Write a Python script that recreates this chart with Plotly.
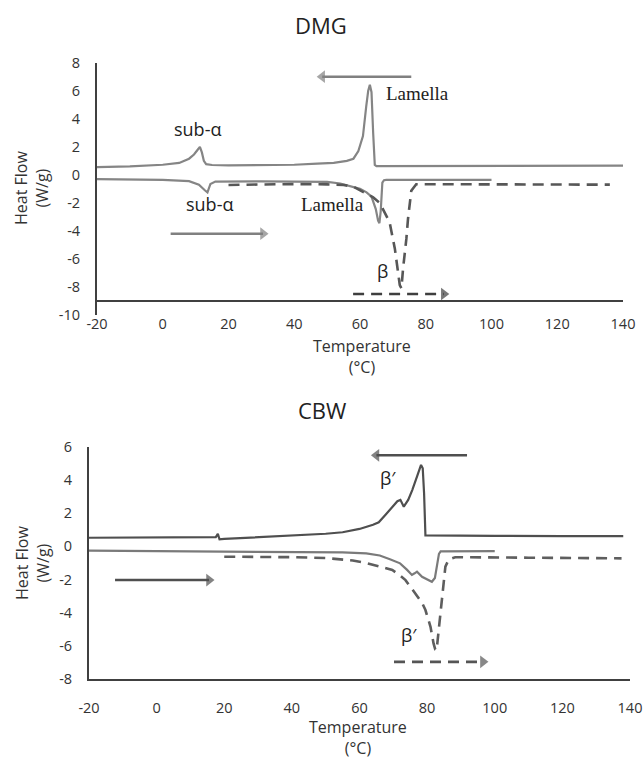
import plotly.graph_objects as go

# ---------------- DATA ----------------
x_ticks = [-20, 0, 20, 40, 60, 80, 100, 120, 140]
x_tick_text = ["-20", "0", "20", "40", "60", "80", "100", "120", "140"]
dmg_y_ticks = [-10, -8, -6, -4, -2, 0, 2, 4, 6, 8]
dmg_y_tick_text = ["-10", "-8", "-6", "-4", "-2", "0", "2", "4", "6", "8"]
cbw_y_ticks = [-8, -6, -4, -2, 0, 2, 4, 6]
cbw_y_tick_text = ["-8", "-6", "-4", "-2", "0", "2", "4", "6"]

# DMG cooling (solid, upper)
dmg_cool_t = [-20, -10, 0, 5, 8, 9.5, 10.5, 11.3, 11.9, 12.5, 13.2, 15, 20, 30, 40, 47, 52, 56, 58, 59.5, 60.9, 61.9, 62.5, 63.0, 63.5, 64.0, 64.5, 65, 80, 100, 120, 140]
dmg_cool_hf = [0.55, 0.6, 0.72, 0.85, 1.15, 1.45, 1.75, 2.0, 1.6, 1.0, 0.76, 0.7, 0.68, 0.68, 0.72, 0.8, 0.85, 1.0, 1.15, 1.7, 2.76, 4.9, 6.0, 6.42, 5.9, 3.0, 0.7, 0.62, 0.62, 0.62, 0.62, 0.65]

# DMG heating (solid, lower)
dmg_heat_t = [-20, 0, 8, 11, 12.8, 13.6, 14.5, 16, 30, 50, 54, 58, 60, 62, 63.5, 64.8, 65.5, 65.9, 66.3, 66.8, 67.3, 68, 100]
dmg_heat_hf = [-0.31, -0.36, -0.45, -0.7, -1.1, -1.25, -0.65, -0.48, -0.47, -0.5, -0.62, -0.85, -1.0, -1.25, -1.55, -2.44, -3.27, -3.45, -2.6, -0.55, -0.38, -0.36, -0.36]

# DMG heating (dashed)
dmg_dash_t = [20, 30, 40, 50, 55, 58, 61, 64, 66, 67, 69, 70.6, 72.1, 72.6, 73.1, 74.1, 74.6, 75.6, 77.1, 100, 136]
dmg_dash_hf = [-0.72, -0.68, -0.66, -0.68, -0.72, -0.85, -1.2, -1.6, -2.0, -2.45, -3.38, -5.27, -7.87, -8.1, -6.69, -4.57, -3.15, -1.14, -0.67, -0.68, -0.7]

# CBW cooling (solid, upper)
cbw_cool_t = [-20, 0, 15, 17.5, 18.1, 18.6, 20, 30, 40, 50, 55, 60, 64, 65.7, 67.7, 69.5, 71.2, 72.1, 73.1, 74.4, 75.6, 77.0, 78.2, 78.7, 79.1, 79.5, 85, 100, 120, 138]
cbw_cool_hf = [0.52, 0.52, 0.54, 0.56, 0.75, 0.42, 0.45, 0.55, 0.64, 0.76, 0.85, 1.05, 1.3, 1.45, 1.9, 2.3, 2.72, 2.8, 2.39, 2.8, 3.39, 4.2, 4.9, 4.7, 3.2, 0.66, 0.64, 0.63, 0.62, 0.62]

# CBW heating (solid, lower)
cbw_heat_t = [-20, 0, 20, 40, 55, 62, 66, 69, 72, 74, 75.5, 76.3, 77.0, 78.5, 80, 81.4, 82.3, 82.9, 83.5, 84, 100]
cbw_heat_hf = [-0.26, -0.29, -0.32, -0.35, -0.36, -0.42, -0.55, -0.78, -1.02, -1.4, -1.72, -1.62, -1.52, -1.83, -2.0, -2.13, -1.9, -1.02, -0.45, -0.3, -0.28]

# CBW heating (dashed)
cbw_dash_t = [20, 30, 40, 50, 58, 62, 66, 69.7, 72, 73.6, 76.5, 78.5, 79.5, 81.0, 81.9, 82.4, 82.8, 83.4, 84.4, 85.4, 86.4, 88.3, 110, 137.5]
cbw_dash_hf = [-0.62, -0.62, -0.65, -0.7, -0.85, -1.0, -1.2, -1.42, -1.75, -2.03, -2.83, -3.4, -3.83, -4.84, -5.84, -6.2, -6.25, -5.04, -3.03, -1.22, -0.78, -0.65, -0.68, -0.72]

# arrows: (x_start, x_end, y, style)
dmg_arrows = [(75.6, 48.5, 7.0, "solid"), (2.4, 30.5, -4.2, "solid"), (57.9, 85.5, -8.5, "dash")]
cbw_arrows = [(91.8, 65.0, 5.48, "solid"), (-12.3, 15.5, -2.03, "solid"), (70.2, 96.5, -6.95, "dash")]

# labels: (x, y, text, serif?)
dmg_labels = [(10.7, 3.28, "sub-α", False), (14.2, -2.09, "sub-α", False), (77.5, 5.83, "Lamella", True),
              (51.6, -2.13, "Lamella", True), (66.7, -6.86, "β", False)]
cbw_labels = [(68.5, 4.1, "β′", False), (74.6, -5.34, "β′", False)]

# ---------------- FIGURE ----------------
W, H = 643, 759
SANS = "Open Sans, Arial, sans-serif"
SERIF = "Liberation Serif, Times New Roman, serif"
AX_COL = "#404040"
TXT_COL = "#333333"


def px_x(p):
    return p / W


def px_y(p):
    return 1 - p / H


fig = go.Figure()


def add_curve(xs, ys, axes, color, width, dash="solid"):
    fig.add_trace(go.Scatter(x=xs, y=ys, mode="lines", xaxis=axes[0], yaxis=axes[1],
                             line=dict(color=color, width=width, dash=dash),
                             hoverinfo="skip", showlegend=False))


# top (DMG)
add_curve(dmg_cool_t, dmg_cool_hf, ("x", "y"), "#858585", 2.2)
add_curve(dmg_heat_t, dmg_heat_hf, ("x", "y"), "#858585", 2.2)
add_curve(dmg_dash_t, dmg_dash_hf, ("x", "y"), "#575757", 2.6, "11px,7px")
# bottom (CBW)
add_curve(cbw_cool_t, cbw_cool_hf, ("x2", "y2"), "#4f4f4f", 2.2)
add_curve(cbw_heat_t, cbw_heat_hf, ("x2", "y2"), "#7a7a7a", 2.2)
add_curve(cbw_dash_t, cbw_dash_hf, ("x2", "y2"), "#5e5e5e", 2.6, "11px,7px")


def add_arrow(a, axes, color_solid, color_dash):
    x0, x1, yv, style = a
    col = color_solid if style == "solid" else color_dash
    sym = "triangle-right" if x1 > x0 else "triangle-left"
    fig.add_trace(go.Scatter(x=[x0, x1], y=[yv, yv], mode="lines+markers", xaxis=axes[0], yaxis=axes[1],
                             line=dict(color=col, width=2.5 if style == "solid" else 2.6,
                                       dash="solid" if style == "solid" else "11px,7px"),
                             marker=dict(symbol=sym, size=[0, 11], color=col, line=dict(width=0)),
                             hoverinfo="skip", showlegend=False))


for a in dmg_arrows:
    add_arrow(a, ("x", "y"), "#808080", "#3f3f3f")
for a in cbw_arrows:
    add_arrow(a, ("x2", "y2"), "#4f4f4f", "#555555")

annotations = []
for (lx, ly, t, serif) in dmg_labels:
    annotations.append(dict(x=lx, y=ly, xref="x", yref="y", text=t, showarrow=False,
                            xanchor="center", yanchor="middle",
                            font=dict(family=SERIF if serif else SANS, size=19 if serif else 18, color="#222222")))
for (lx, ly, t, serif) in cbw_labels:
    annotations.append(dict(x=lx, y=ly, xref="x2", yref="y2", text=t, showarrow=False,
                            xanchor="center", yanchor="middle",
                            font=dict(family=SANS, size=18, color="#222222")))

# titles
annotations.append(dict(x=px_x(321), y=px_y(25), xref="paper", yref="paper", text="DMG", showarrow=False,
                        xanchor="center", yanchor="middle", font=dict(family=SANS, size=22, color="#222222")))
annotations.append(dict(x=px_x(322), y=px_y(410), xref="paper", yref="paper", text="CBW", showarrow=False,
                        xanchor="center", yanchor="middle", font=dict(family=SANS, size=22, color="#222222")))
# axis titles
for (cx, cy) in [(31, 188), (32, 563)]:
    annotations.append(dict(x=px_x(cx), y=px_y(cy), xref="paper", yref="paper", text="Heat Flow<br>(W/g)",
                            textangle=-90, showarrow=False, xanchor="center", yanchor="middle",
                            font=dict(family=SANS, size=16, color=TXT_COL)))
for (cx, cy) in [(362, 357), (358, 737)]:
    annotations.append(dict(x=px_x(cx), y=px_y(cy), xref="paper", yref="paper", text="Temperature<br>(°C)",
                            showarrow=False, xanchor="center", yanchor="middle",
                            font=dict(family=SANS, size=16, color=TXT_COL)))

tickfont = dict(family=SANS, size=14.5, color=TXT_COL)

fig.update_layout(
    width=W, height=H,
    margin=dict(l=0, r=0, t=0, b=0),
    paper_bgcolor="white", plot_bgcolor="white",
    showlegend=False,
    xaxis=dict(domain=[px_x(97), px_x(623)], range=[-20, 140], tickvals=x_ticks, ticktext=x_tick_text,
               showgrid=False, zeroline=False, showline=False, ticks="", tickfont=tickfont, automargin=False,
               ticklabelstandoff=-2, ticklabeloverflow="allow", anchor="y"),
    yaxis=dict(domain=[px_y(315), px_y(62.7)], range=[-10, 8], tickvals=dmg_y_ticks, ticktext=dmg_y_tick_text,
               showgrid=False, zeroline=False, showline=True, linecolor=AX_COL, linewidth=2, ticks="",
               tickfont=tickfont, automargin=False, ticklabelstandoff=12, ticklabeloverflow="allow", anchor="x"),
    xaxis2=dict(domain=[px_x(89), px_x(630)], range=[-20, 140], tickvals=x_ticks, ticktext=x_tick_text,
                showgrid=False, zeroline=False, showline=True, linecolor=AX_COL, linewidth=2, ticks="",
                tickfont=tickfont, automargin=False, ticklabelstandoff=14, ticklabeloverflow="allow", anchor="y2"),
    yaxis2=dict(domain=[px_y(679.3), px_y(446.7)], range=[-8, 6], tickvals=cbw_y_ticks, ticktext=cbw_y_tick_text,
                showgrid=False, zeroline=False, showline=True, linecolor=AX_COL, linewidth=2, ticks="",
                tickfont=tickfont, automargin=False, ticklabelstandoff=12, ticklabeloverflow="allow", anchor="x2"),
    annotations=annotations,
    shapes=[dict(type="line", xref="x", yref="y", x0=-20, x1=141, y0=-9, y1=-9,
                 line=dict(color=AX_COL, width=2))],
)

fig.write_html("out.html")
